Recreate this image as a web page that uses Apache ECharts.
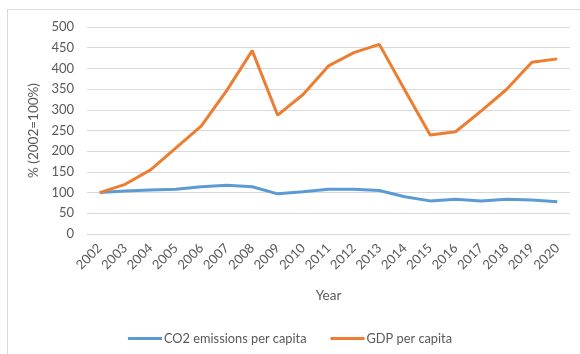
<!DOCTYPE html>
<html>
<head>
<meta charset="utf-8">
<script src="https://cdn.jsdelivr.net/npm/echarts@6/dist/echarts.min.js"></script>
<style>
  html, body { margin: 0; padding: 0; background: #fff; overflow: hidden; }
  #frame { position: absolute; left: 7px; top: 9px; width: 600px; height: 400px; border: 1px solid #d9d9d9; box-sizing: border-box; }
  #chart { width: 580px; height: 354px; position: absolute; left: 0; top: 0; }
</style>
</head>
<body>
<div id="frame"></div>
<div id="chart"></div>
<script>
// Index values, 2002 = 100%
const years = ['2002','2003','2004','2005','2006','2007','2008','2009','2010','2011',
               '2012','2013','2014','2015','2016','2017','2018','2019','2020'];
const co2PerCapita = [100, 104, 106, 108, 114, 118, 114, 97, 102, 108,
                      108, 105, 90, 80, 84, 80, 84, 82, 78];
const gdpPerCapita = [100, 120, 155, 208, 261, 347, 443, 287, 337, 406,
                      438, 458, 348, 239, 247, 297, 349, 415, 423];
const yTicks = { min: 0, max: 500, step: 50 };

const textColor = '#595959';
const font = 'Lato, "Open Sans", sans-serif';

const chart = echarts.init(document.getElementById('chart'));
chart.setOption({
  animation: false,
  grid: { left: 87, right: 10, top: 27, bottom: 120 },
  legend: {
    bottom: 4,
    left: 'center',
    itemGap: 24,
    itemWidth: 34,
    itemHeight: 3,
    icon: 'rect',
    textStyle: { color: textColor, fontSize: 12.8, fontFamily: font, padding: [0, 0, 0, -3] },
    data: ['CO2 emissions per capita', 'GDP per capita']
  },
  xAxis: {
    type: 'category',
    data: years,
    boundaryGap: true,
    name: 'Year',
    nameLocation: 'middle',
    nameGap: 55,
    nameTextStyle: { color: textColor, fontSize: 13.5, fontFamily: font },
    axisLine: { show: true, lineStyle: { color: '#d9d9d9' } },
    axisTick: { show: false },
    axisLabel: { rotate: 45, color: textColor, fontSize: 13, fontFamily: font, margin: 12, interval: 0 }
  },
  yAxis: {
    type: 'value',
    min: yTicks.min,
    max: yTicks.max,
    interval: yTicks.step,
    name: '% (2002=100%)',
    nameLocation: 'middle',
    nameGap: 44,
    nameRotate: 90,
    nameTextStyle: { color: textColor, fontSize: 13.5, fontFamily: font },
    axisLine: { show: false },
    axisTick: { show: false },
    axisLabel: { color: textColor, fontSize: 13, fontFamily: font, margin: 13 },
    splitLine: { lineStyle: { color: '#d9d9d9', width: 1 } }
  },
  series: [
    {
      name: 'CO2 emissions per capita',
      type: 'line',
      data: co2PerCapita,
      symbol: 'none',
      lineStyle: { color: '#5B9BD5', width: 3 },
      itemStyle: { color: '#5B9BD5' }
    },
    {
      name: 'GDP per capita',
      type: 'line',
      data: gdpPerCapita,
      symbol: 'none',
      lineStyle: { color: '#ED7D31', width: 3 },
      itemStyle: { color: '#ED7D31' }
    }
  ]
});
</script>
</body>
</html>
